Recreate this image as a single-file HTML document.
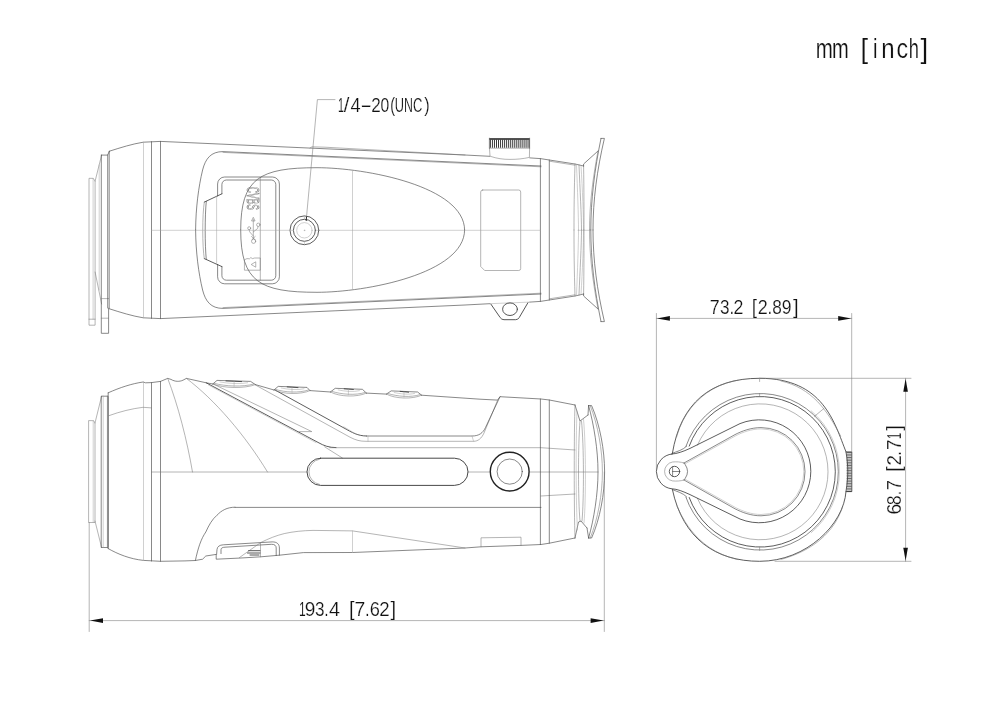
<!DOCTYPE html>
<html lang="en"><head><meta charset="utf-8"><title>Dimensions</title>
<style>
html,body{margin:0;padding:0;background:#fff;}
body{width:1000px;height:707px;overflow:hidden;font-family:"Liberation Sans",sans-serif;}
svg{display:block;}
path,circle,ellipse,rect,line{fill:none;stroke-linecap:round;stroke-linejoin:round;}
.d{stroke:#222;stroke-width:1.0;}
.k{stroke:#333;stroke-width:0.8;}
.m{stroke:#484848;stroke-width:0.65;}
.l{stroke:#777;stroke-width:0.55;}
.x{stroke:#a0a0a0;stroke-width:0.5;}
.f{fill:#111;stroke:none;}
text{font-family:"Liberation Sans",sans-serif;fill:#111;}
svg{filter:grayscale(1);}
</style></head>
<body>
<svg width="1000" height="707" viewBox="0 0 1000 707">
<rect x="0" y="0" width="1000" height="707" style="fill:#fff;stroke:none"/>
<g id="top-view">
<path class="l" d="M89,178.7V325.2H95.1V181.2L93.5,178.7Z"/>
<path class="x" d="M93.1,178.7V319.2"/>
<path class="l" d="M89,319.2H95.1"/>
<path class="l" d="M101.6,155.1L95.1,181.2M95.1,272L101.6,304"/>
<path class="m" d="M101.5,155.1H107.6L109.4,151.2M108.6,308.2V333.3H101.3V155.1"/>
<path class="x" d="M99.2,165V290"/>
<path class="l" d="M101.3,318.2H108.6M101.5,298.6H108.6"/>
<path class="m" d="M107.7,155.1V308M109.2,151.5V308.2"/>
<path class="m" d="M109.4,151.2C121,147.5 132,144 143.3,142.2L160.5,141.4L465,155L489.6,156.3M529.8,157.9L540.4,158.6L549.3,160L575,164L583.6,166"/>
<path class="m" d="M109.4,151.2C121,147.5 132,144 143.3,142.2L160.5,141.4L465,155L489.6,156.3M529.8,157.9L540.4,158.6L549.3,160L575,164L583.6,166" transform="matrix(1 0 0 -1 0 460)"/>
<path class="l" d="M310,148L312,146.8L325,147.2L465,155"/>
<path class="x" d="M143.5,142.2V317.8"/>
<path class="m" d="M151.5,141.7V318.3"/>
<path class="m" d="M160.5,141.4V318.6"/>
<path class="m" d="M195.6,230C195.8,208 198.5,187 202.6,170C205.5,158.5 211,151.6 223,151.6L541,166"/>
<path class="m" d="M195.6,230C195.8,208 198.5,187 202.6,170C205.5,158.5 211,151.6 223,151.6L541,166" transform="matrix(1 0 0 -1 0 460)"/>
<path class="l" d="M223,152.4L541,166.8"/>
<path class="l" d="M223,152.4L541,166.8" transform="matrix(1 0 0 -1 0 460)"/>
<path class="m" d="M240.7,230C240.7,178 259.9,167.7 317,167.7C365.5,167.7 464.6,186.2 464.6,230"/>
<path class="m" d="M240.7,230C240.7,178 259.9,167.7 317,167.7C365.5,167.7 464.6,186.2 464.6,230" transform="matrix(1 0 0 -1 0 460)"/>
<path class="x" d="M352.5,171V289"/>
<path class="m" d="M217.6,196V184a7,7 0 0 1 7,-7H272.4a7,7 0 0 1 7,7V276.8a7,7 0 0 1 -7,7H224.6a7,7 0 0 1 -7,-7V264.4"/>
<path class="m" d="M221.9,193.8V184.5a4.5,4.5 0 0 1 4.5,-4.5H271.3a4.5,4.5 0 0 1 4.5,4.5V275.7a4.5,4.5 0 0 1 -4.5,4.5H226.4a4.5,4.5 0 0 1 -4.5,-4.5V266.6"/>
<path class="k" d="M221.9,193.8L204.3,202.1M204.3,258.6L221.9,266.6"/>
<path class="l" d="M204.3,202.1C202.2,215 202.2,246 204.3,258.6"/>
<path class="m" d="M206.3,201.3C204.8,215 204.8,246 206.3,259.4"/>
<path class="x" d="M216.6,196.3V264.2"/>
<path class="l" d="M260.3,177.5V280.2"/>
<text transform="translate(247.4,186.8) rotate(90) scale(0.5,1)" style="font-size:17px;fill:none;stroke:#777;stroke-width:0.7px" >CVBS</text>
<path class="l" d="M253.3,219.5V238.5M251.7,220.6L253.3,217.3L254.9,220.6ZM253.3,232L257.6,228.5L258,226.6M253.3,236L249.6,231.8L249.3,229.8M251.5,236.5L255.5,240M255.2,236.5L252,239.6"/>
<circle class="l" cx="253.6" cy="241.3" r="2.1"/>
<circle class="l" cx="258.3" cy="224.8" r="1.7"/>
<circle class="l" cx="249.2" cy="228.2" r="1.5"/>
<path class="l" d="M244.8,259.6L247,258.6L249.5,258.8L250.8,257.6L252.5,258.6L254.6,258H260.3V270.2H244.8Z"/>
<path class="l" d="M255.4,262L251.2,264.5L255.4,267Z"/>
<circle class="k" cx="304.4" cy="230.3" r="14.4"/>
<circle class="k" cx="304.4" cy="230.3" r="11"/>
<circle class="x" cx="304.4" cy="230.3" r="7.7"/>
<circle class="x" cx="304.4" cy="230.3" r="0.4"/>
<path class="l" d="M482.7,190H518.7a2,2 0 0 1 2,2V268.5a2,2 0 0 1 -2,2H484.7L480.7,266.5V192a2,2 0 0 1 2,-2Z"/>
<path class="m" d="M540.4,158.6V301.4"/>
<path class="m" d="M549.3,160V300"/>
<path class="l" d="M549.4,161.2L575,165.2"/>
<path class="l" d="M549.4,161.2L575,165.2" transform="matrix(1 0 0 -1 0 460)"/>
<path class="l" d="M575,164C574.2,190 574,210 574,230"/>
<path class="l" d="M575,164C574.2,190 574,210 574,230" transform="matrix(1 0 0 -1 0 460)"/>
<path class="x" d="M576.5,164.5C577.5,190 578.5,215 578.5,230"/>
<path class="x" d="M576.5,164.5C577.5,190 578.5,215 578.5,230" transform="matrix(1 0 0 -1 0 460)"/>
<path class="l" d="M579,165C580,190 581.5,215 581.5,230"/>
<path class="l" d="M579,165C580,190 581.5,215 581.5,230" transform="matrix(1 0 0 -1 0 460)"/>
<path class="x" d="M581,165.5C582.5,190 583.5,215 583.5,230"/>
<path class="x" d="M581,165.5C582.5,190 583.5,215 583.5,230" transform="matrix(1 0 0 -1 0 460)"/>
<path class="l" d="M583.6,166C584,190 584,215 584,230"/>
<path class="l" d="M583.6,166C584,190 584,215 584,230" transform="matrix(1 0 0 -1 0 460)"/>
<path class="m" d="M583.6,166V164L598,151"/>
<path class="m" d="M583.6,166V164L598,151" transform="matrix(1 0 0 -1 0 460)"/>
<path class="m" d="M601,138.4H604.4C597,170 593,200 593,230"/>
<path class="m" d="M601,138.4H604.4C597,170 593,200 593,230" transform="matrix(1 0 0 -1 0 460)"/>
<path class="m" d="M601,138.4C594.5,170 590.8,200 590.8,230"/>
<path class="m" d="M601,138.4C594.5,170 590.8,200 590.8,230" transform="matrix(1 0 0 -1 0 460)"/>
<path class="l" d="M598,151C592.5,180 589.5,205 589.5,230"/>
<path class="l" d="M598,151C592.5,180 589.5,205 589.5,230" transform="matrix(1 0 0 -1 0 460)"/>
<path d="M489.4,139H529.6" style="stroke:#1a1a1a;stroke-width:1.7;stroke-linecap:butt"/>
<path d="M490.40,139.6V147.8M492.43,139.6V147.8M494.46,139.6V147.8M496.49,139.6V147.8M498.52,139.6V147.8M500.55,139.6V147.8M502.58,139.6V147.8M504.61,139.6V147.8M506.64,139.6V147.8M508.67,139.6V147.8M510.70,139.6V147.8M512.73,139.6V147.8M514.76,139.6V147.8M516.79,139.6V147.8M518.82,139.6V147.8M520.85,139.6V147.8M522.88,139.6V147.8M524.91,139.6V147.8M526.94,139.6V147.8M528.97,139.6V147.8" style="stroke:#383838;stroke-width:1.0;stroke-linecap:butt"/>
<path class="m" d="M489.4,138.2V148.2M529.6,138.2V148.2"/>
<path class="l" d="M489.4,148.2H529.6"/>
<path class="l" d="M489.5,148.2L490,156.2C497,158.6 503,159.4 510,159.4C517,159.4 523,158.8 529.4,157.4L529.6,148.2"/>
<path d="M490.8,304L500.2,317.6Q501.6,319.7 504,319.7H515.6Q518,319.7 519.2,317.6L528,302.6" style="stroke:#444;stroke-width:0.9"/>
<path class="x" d="M489.6,303.7L529.8,302.1"/>
<ellipse cx="510" cy="309.2" rx="7.4" ry="6.3" style="stroke:#444;stroke-width:0.9"/>
<path class="x" d="M151.5,230.3H290M319,230.3H540.4M578,230.3H589"/>
<path class="x" d="M304.4,215.9V219.3M304.4,241.3V244.7M290,230.3H293.4M315.4,230.3H318.8"/>
</g>
<g id="side-view">
<path class="l" d="M88.6,421V522.5H95V423L93.8,421Z"/>
<path class="x" d="M93.2,421V522.5"/>
<path class="l" d="M101.6,396.2L95,423M95,521L101.6,547.5"/>
<path class="m" d="M101.6,396.2H108V547.5H101.6Z"/>
<path class="m" d="M108.2,392.8V548.6"/>
<path class="l" d="M107.4,396V547.5"/>
<path class="x" d="M103.2,396V547.5"/>
<path class="m" d="M108.2,392.8C120,387.5 132,383.6 143.1,382L145.5,382.8L151.5,382.6L160.5,381.4L167.7,378.4L171,379.4C175,381.8 179.5,381.8 183,380.2L186.4,378.4L206.2,382.8L212.8,384M255.4,384.6L274,390M310,390.6L330.4,392M366.4,393.1L386.4,394.1M421.6,395.2L480,399.2L497.5,400.1L500,396.7L541,399L549.4,400L575,405"/>
<path class="m" d="M108.2,548.6C118,554.2 130,559 143.5,560.4L160.5,561.3L185,560.9L195.4,560.5L202.6,559.2L205.8,556L216.2,554.4V559.2L241,558L261,556.8L279.4,555.2L303.4,552.6L352.5,552.5L465,548L481,546.8L521,545.4L541,544.5L549.4,543.2L575,538"/>
<path class="x" d="M143.5,382V560.4"/>
<path class="m" d="M151.5,382.6V561"/>
<path class="m" d="M160.5,381.4V561.3"/>
<path class="l" d="M108.8,415.7C120,411.6 132,408.6 143.1,407.3L151.5,407.9"/>
<path class="l" d="M151.5,472H307M468,472H490M530,472H598"/>
<path class="l" d="M167.7,378.4C178,405 187,440 192.5,472"/>
<path class="l" d="M186.4,378.4C215,400 245,435 267.5,472"/>
<path class="k" d="M206.2,382.8L318,442.4C324,445.8 329,447.6 336,447.6"/>
<path class="x" d="M208.5,385L316,442.6"/>
<path class="l" d="M213.4,384.1L311.8,431.6H299"/>
<path class="l" d="M255.8,385.2L350,437.2C356,440.3 360,441.3 366,441.3H473.6C478,441.3 481.5,438.5 484,433L497.5,400.5"/>
<path class="k" d="M275,390L344,428C352,432.5 358,436 366.4,436"/>
<path class="m" d="M366.4,436H472C479,436 483,433 485.5,427.5L500,396.7"/>
<path class="x" d="M343.8,426.8L355,433.5"/>
<path class="x" d="M368,436V441.3M472,436L473.6,441.3"/>
<path class="l" d="M324.6,446.8L342.4,458"/>
<path class="l" d="M329.6,447.7H541L575,450"/>
<path class="m" d="M235,507.4H541"/>
<path class="l" d="M541,496L575,494"/>
<path class="m" d="M195.4,560.5C198,548 201,539 205.8,532C209,525 212,519.5 217,515.2C221.5,510.5 227,507.2 235,507.2"/>
<path d="M320.6,458.2H454.4a13.6,13.6 0 0 1 0,27.2H320.6a13.6,13.6 0 0 1 0,-27.2Z" style="stroke:#333;stroke-width:0.9"/>
<path class="l" d="M319.5,459.2a12.8,12.8 0 0 0 0,25.2"/>
<circle cx="509.7" cy="471.6" r="19.4" style="stroke:#222;stroke-width:1.4"/>
<circle class="m" cx="509.7" cy="471.6" r="12.6"/>
<path class="m" d="M540.4,399V544.5"/>
<path class="m" d="M549.3,400V543.2"/>
<path class="m" d="M212.8,384L217,380.4L250.6,381.4L255.4,384.6"/>
<path class="l" d="M212.8,384C223.45000000000002,388.4 244.75,388.8 255.4,384.6"/>
<path class="l" d="M214.3,383.4C225.58,386.4 242.62,387.20000000000005 253.9,384.0"/>
<path class="x" d="M220,382.0C227.65,383.4 239.95,384.4 247.6,382.79999999999995"/>
<path class="k" d="M226,380.9L241.6,381.59999999999997"/>
<path class="x" d="M234.10000000000002,381.4V386.4"/>
<path class="m" d="M274,390L278.2,386.4L307,387.4L310,390.6"/>
<path class="l" d="M274,390C283.0,394.4 301.0,394.8 310,390.6"/>
<path class="l" d="M275.5,389.4C284.8,392.4 299.2,393.20000000000005 308.5,390.0"/>
<path class="x" d="M281.2,388.0C287.2,389.4 298.0,390.4 304,388.79999999999995"/>
<path class="k" d="M287.2,386.9L298,387.59999999999997"/>
<path class="x" d="M292.0,387.4V392.4"/>
<path class="m" d="M330.4,392L335.2,388.3L362.4,389.3L366.4,393.1"/>
<path class="l" d="M330.4,392C339.4,397.0 357.4,397.40000000000003 366.4,393.1"/>
<path class="l" d="M331.9,391.4C341.2,394.4 355.59999999999997,395.70000000000005 364.9,392.5"/>
<path class="x" d="M338.2,389.90000000000003C344.2,391.3 353.4,392.3 359.4,390.7"/>
<path class="k" d="M344.2,388.8L353.4,389.5"/>
<path class="x" d="M348.4,389.3V395.0"/>
<path class="m" d="M386.4,394.1L391.2,390.9L417.6,392L421.6,395.2"/>
<path class="l" d="M386.4,394.1C395.2,399.0 412.8,399.40000000000003 421.6,395.2"/>
<path class="l" d="M387.9,393.5C396.96,396.5 411.04,397.8 420.1,394.59999999999997"/>
<path class="x" d="M394.2,392.5C400.0,393.9 408.8,395 414.6,393.4"/>
<path class="k" d="M400.2,391.4L408.6,392.2"/>
<path class="x" d="M404.0,391.9V397.0"/>
<path class="m" d="M216.6,554.4L217,549.5C217.3,546.5 219.5,545 223.4,544.8L272.2,541.9C276.8,541.8 279.4,544 279.4,548V555.2"/>
<path class="m" d="M221,553.6V549.6C221,548 222.5,547.3 225,547.2L271.4,544.3C274.6,544.2 276.2,545.6 276.2,548V555.5"/>
<path class="l" d="M239.4,557.6L260.2,542.9M260.5,542.9V556.8"/>
<path d="M248.5,550.7H260M247.5,553H260M250,555H259" style="stroke:#444;stroke-width:0.9"/>
<path class="l" d="M261,542.4C269,538.5 276,535.6 284.2,533.6C293,531.6 303,530.6 313,530.4L352.5,530.9L465,548"/>
<path class="x" d="M352.5,531V552.5"/>
<path class="l" d="M481,546.8V537.8L521,537.2V545.4"/>
<path class="m" d="M575,405L580,421L588,415"/>
<path class="m" d="M575,538L578.5,522L581,521L587,528"/>
<path class="l" d="M575,405C574,430 574,510 575,538"/>
<path class="x" d="M577,411C575.8,440 575.8,505 577.5,530"/>
<path class="l" d="M580,421C578,445 578,500 580,521"/>
<path class="l" d="M581.5,421C584,445 584,500 582,521"/>
<path class="x" d="M583.5,419C586,445 586,500 584,523"/>
<path class="m" d="M588.6,405.6H591.6C600,425 604.6,450 604.6,472C604.6,494 600,519 591.6,538H588.6"/>
<path class="l" d="M590.2,405.6C598,425 602.4,450 602.4,472C602.4,494 598,519 590.2,538"/>
<path class="m" d="M588.6,405.6C594,425 598,450 598,472C598,494 594,519 588.6,538"/>
<path class="m" d="M588.6,405.6L588,415M588.6,538L587,528"/>
</g>
<g id="front-view">
<path class="k" d="M672.4,453.2C680.7,403 710.7,378.3 759.6,378.3C823.7,378.3 834.4,423 846,451.8C847.3,460 847.8,466 847.8,471.5C847.8,477 847.3,483 846,491.4C843.8,524 806.7,561.3 759.6,561.3C715.7,561.3 682.9,538.8 672.4,489.6"/>
<path class="l" d="M676.6,437C684,409 706,385.5 738,380.2"/>
<path class="l" d="M781,381C812,388 827,410 840.6,436"/>
<path class="l" d="M842.6,507C834,533 812,551 781,559.4"/>
<path class="l" d="M738,559.6C712,554 690,537 677,506"/>
<path class="m" d="M685.97,446.31A78.3,78.3 0 1 1 685.97,497.29"/>
<path class="k" d="M689.24,446.05A75.3,75.3 0 1 1 689.24,497.55"/>
<path class="x" d="M811.17,410.82A79.6,79.6 0 0 1 811.17,532.78"/>
<path class="l" d="M697.41,445.23A68,68 0 1 1 697.41,498.37"/>
<path class="m" d="M672.4,453.2C677,451.5 683,450 686.6,446.2"/>
<path class="m" d="M672.4,489.6C677,491.5 683,493 686.6,496.8"/>
<path class="l" d="M814.4,416.4L824,408.4"/>
<path class="l" d="M759.6,378.3V381.5M759.6,393.4V396.4M759.6,547.2V550.4"/>
<path class="k" d="M672,454C677,453.8 683,451.6 690,448.4L740,423.6A51.5,51.5 0 0 1 810.8,471.3A51.5,51.5 0 0 1 740,519L690,494.6C683,491.4 677,489 672,488.8A17.5,17.5 0 0 1 672,454Z"/>
<path class="m" d="M684,463L735,434.6C742,431 751,427.6 761,427.6A44,44 0 0 1 805,471.7A44,44 0 0 1 761,515.8C751,515.8 742,512.4 735,508.8L684,480"/>
<path class="x" d="M685.4,463.6L735.6,435.8C742.5,432.3 751.5,428.9 761,428.9A42.8,42.8 0 0 1 803.8,471.7A42.8,42.8 0 0 1 761,514.5C751.5,514.5 742.5,511.1 735.6,507.6L685.4,479.4"/>
<path class="l" d="M684,463C680.5,461.8 676.5,461.6 672.5,462A9.6,9.6 0 0 0 672.5,480.9C676.5,481.3 680.5,481.1 684,480"/>
<path class="m" d="M684,463L685.2,464.6A12.3,12.3 0 0 1 685.2,478.4L684,480"/>
<circle class="k" cx="674.5" cy="471.5" r="5.2"/>
<path class="m" d="M672.6,466.8V476.2M672.6,471.5H679.6"/>
<path d="M846.6,452.60H851.6M846.6,454.22H851.6M846.6,455.84H851.6M846.6,457.46H851.6M846.6,459.08H851.6M846.6,460.70H851.6M846.6,462.32H851.6M846.6,463.94H851.6M846.6,465.56H851.6M846.6,467.18H851.6M846.6,468.80H851.6M846.6,470.42H851.6M846.6,472.04H851.6M846.6,473.66H851.6M846.6,475.28H851.6M846.6,476.90H851.6M846.6,478.52H851.6M846.6,480.14H851.6M846.6,481.76H851.6M846.6,483.38H851.6M846.6,485.00H851.6M846.6,486.62H851.6M846.6,488.24H851.6M846.6,489.86H851.6M846.6,491.48H851.6" style="stroke:#444;stroke-width:0.8;stroke-linecap:butt"/>
<path class="k" d="M846,451.9H851.8V491.6H846"/>
</g>
<g id="dims">
<path class="l" d="M89.2,522.5V631.5M604.3,472V631.5"/>
<path class="l" d="M89.2,620.6H604.3"/>
<path class="f" d="M90,620.6L103.00,618.30L103.00,622.90Z"/>
<path class="f" d="M603.6,620.6L590.60,622.90L590.60,618.30Z"/>
<text transform="translate(0,615.6)" y="0" style="font-size:20.3px;fill:#111;stroke:#fff;stroke-width:0.2px" xml:space="preserve"><tspan x="298.98" textLength="6.71" lengthAdjust="spacingAndGlyphs">1</tspan><tspan x="304.70" textLength="10.59" lengthAdjust="spacingAndGlyphs">9</tspan><tspan x="314.95" textLength="9.50" lengthAdjust="spacingAndGlyphs">3</tspan><tspan x="324.18" textLength="4.34" lengthAdjust="spacingAndGlyphs">.</tspan><tspan x="328.94" textLength="11.03" lengthAdjust="spacingAndGlyphs">4</tspan><tspan x="340.40" textLength="4.51" lengthAdjust="spacingAndGlyphs"> </tspan><tspan x="348.97" textLength="5.58" lengthAdjust="spacingAndGlyphs">[</tspan><tspan x="354.61" textLength="10.76" lengthAdjust="spacingAndGlyphs">7</tspan><tspan x="364.98" textLength="4.63" lengthAdjust="spacingAndGlyphs">.</tspan><tspan x="369.67" textLength="10.13" lengthAdjust="spacingAndGlyphs">6</tspan><tspan x="379.27" textLength="10.37" lengthAdjust="spacingAndGlyphs">2</tspan><tspan x="390.47" textLength="5.64" lengthAdjust="spacingAndGlyphs">]</tspan></text>
<path class="l" d="M656.4,313.5V470M851.7,313.5V451.6"/>
<path class="l" d="M656.4,318.4H851.7"/>
<path class="f" d="M656.9,318.4L669.90,316.10L669.90,320.70Z"/>
<path class="f" d="M851.2,318.4L838.20,320.70L838.20,316.10Z"/>
<text transform="translate(0,313.7)" y="0" style="font-size:20.3px;fill:#111;stroke:#fff;stroke-width:0.2px" xml:space="preserve"><tspan x="709.69" textLength="9.90" lengthAdjust="spacingAndGlyphs">7</tspan><tspan x="719.95" textLength="9.50" lengthAdjust="spacingAndGlyphs">3</tspan><tspan x="729.38" textLength="4.63" lengthAdjust="spacingAndGlyphs">.</tspan><tspan x="733.51" textLength="9.88" lengthAdjust="spacingAndGlyphs">2</tspan><tspan x="743.50" textLength="4.51" lengthAdjust="spacingAndGlyphs"> </tspan><tspan x="751.74" textLength="5.31" lengthAdjust="spacingAndGlyphs">[</tspan><tspan x="757.80" textLength="10.00" lengthAdjust="spacingAndGlyphs">2</tspan><tspan x="767.58" textLength="4.63" lengthAdjust="spacingAndGlyphs">.</tspan><tspan x="772.36" textLength="9.58" lengthAdjust="spacingAndGlyphs">8</tspan><tspan x="781.68" textLength="9.75" lengthAdjust="spacingAndGlyphs">9</tspan><tspan x="792.97" textLength="5.64" lengthAdjust="spacingAndGlyphs">]</tspan></text>
<path class="l" d="M759.6,378.3H911M775,561.3H911"/>
<path class="l" d="M905.6,378.3V561.3"/>
<path class="f" d="M905.6,378.8L907.90,391.80L903.30,391.80Z"/>
<path class="f" d="M905.6,560.8L903.30,547.80L907.90,547.80Z"/>
<text transform="translate(900.9,513.6) rotate(-90)" y="0" style="font-size:20.3px;fill:#111;stroke:#fff;stroke-width:0.2px" xml:space="preserve"><tspan x="-0.98" textLength="10.74" lengthAdjust="spacingAndGlyphs">6</tspan><tspan x="8.67" textLength="9.47" lengthAdjust="spacingAndGlyphs">8</tspan><tspan x="18.38" textLength="4.34" lengthAdjust="spacingAndGlyphs">.</tspan><tspan x="23.36" textLength="10.27" lengthAdjust="spacingAndGlyphs">7</tspan><tspan x="33.70" textLength="4.51" lengthAdjust="spacingAndGlyphs"> </tspan><tspan x="41.74" textLength="5.31" lengthAdjust="spacingAndGlyphs">[</tspan><tspan x="48.07" textLength="10.37" lengthAdjust="spacingAndGlyphs">2</tspan><tspan x="57.98" textLength="4.63" lengthAdjust="spacingAndGlyphs">.</tspan><tspan x="63.65" textLength="10.39" lengthAdjust="spacingAndGlyphs">7</tspan><tspan x="74.65" textLength="6.19" lengthAdjust="spacingAndGlyphs">1</tspan><tspan x="82.92" textLength="5.64" lengthAdjust="spacingAndGlyphs">]</tspan></text>
<path class="l" d="M306.5,217L317.4,99.6H335"/>
<path class="d" d="M306.5,217L306.2,220.6"/>
<text transform="translate(0,111.9)" y="0" style="font-size:20.3px;fill:#111;stroke:#fff;stroke-width:0.2px" xml:space="preserve"><tspan x="337.89" textLength="5.94" lengthAdjust="spacingAndGlyphs">1</tspan><tspan x="343.68" textLength="5.64" lengthAdjust="spacingAndGlyphs">/</tspan><tspan x="350.38" textLength="10.15" lengthAdjust="spacingAndGlyphs">4</tspan><tspan x="360.34" textLength="11.83" lengthAdjust="spacingAndGlyphs">-</tspan><tspan x="371.34" textLength="9.51" lengthAdjust="spacingAndGlyphs">2</tspan><tspan x="380.59" textLength="8.73" lengthAdjust="spacingAndGlyphs">0</tspan><tspan x="390.31" textLength="4.78" lengthAdjust="spacingAndGlyphs">(</tspan><tspan x="394.81" textLength="9.28" lengthAdjust="spacingAndGlyphs">U</tspan><tspan x="403.99" textLength="8.91" lengthAdjust="spacingAndGlyphs">N</tspan><tspan x="413.04" textLength="9.36" lengthAdjust="spacingAndGlyphs">C</tspan><tspan x="424.30" textLength="5.40" lengthAdjust="spacingAndGlyphs">)</tspan></text>
<text transform="translate(0,57.5)" y="0" style="font-size:27.5px;fill:#111;stroke:#fff;stroke-width:0.2px" xml:space="preserve"><tspan x="815.74" textLength="17.11" lengthAdjust="spacingAndGlyphs">m</tspan><tspan x="832.07" textLength="16.76" lengthAdjust="spacingAndGlyphs">m</tspan><tspan x="848.50" textLength="6.12" lengthAdjust="spacingAndGlyphs"> </tspan><tspan x="860.61" textLength="7.64" lengthAdjust="spacingAndGlyphs">[</tspan><tspan x="873.03" textLength="4.54" lengthAdjust="spacingAndGlyphs">i</tspan><tspan x="881.32" textLength="13.35" lengthAdjust="spacingAndGlyphs">n</tspan><tspan x="896.53" textLength="11.57" lengthAdjust="spacingAndGlyphs">c</tspan><tspan x="908.74" textLength="10.15" lengthAdjust="spacingAndGlyphs">h</tspan><tspan x="920.44" textLength="7.64" lengthAdjust="spacingAndGlyphs">]</tspan></text>
</g>
</svg>
</body></html>
